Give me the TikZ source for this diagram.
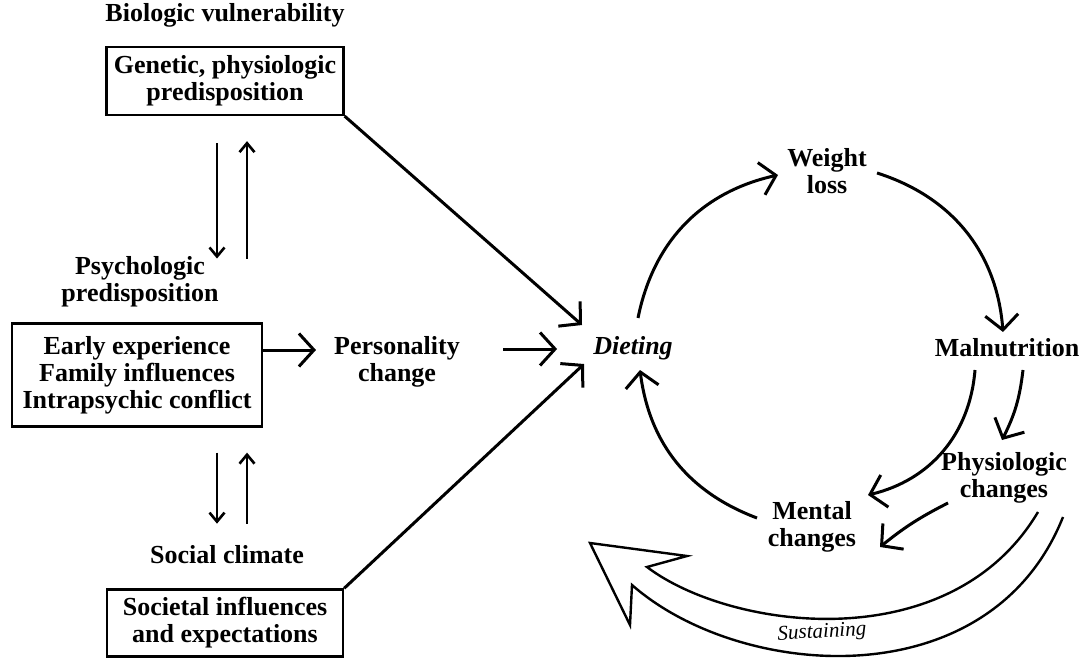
\documentclass[tikz,border=0pt]{standalone}
\usepackage{fontspec}
\setmainfont{Liberation Serif}
\usetikzlibrary{arrows.meta}
\usetikzlibrary{positioning}

\begin{document}
\begin{tikzpicture}[x=1pt,y=-1pt,
  txt/.style={font=\fontsize{26}{27}\selectfont\bfseries,align=center,inner sep=0pt},
  boxed/.style={txt,draw,line width=2.3pt},
  arr/.style={line width=3pt,-{Straight Barb[length=15pt,width=33pt]}},
  sarr/.style={line width=2.6pt,-{Straight Barb[length=9pt,width=15pt]}}]
\useasboundingbox (0,0) rectangle (1084,660);

\node[txt] (bio) at (225,15) {Biologic vulnerability};
\node[boxed,minimum width=237pt,minimum height=68pt] (gen) at (225,81) {Genetic, physiologic\\predisposition};
\node[txt] (psych) at (140,282) {Psychologic\\predisposition};
\node[boxed,minimum width=250pt,minimum height=103pt] (early) at (137,375) {Early experience\\Family influences\\Intrapsychic conflict};
\node[txt] (pers) at (397,362) {Personality\\change};
\node[txt] (social) at (227,555) {Social climate};
\node[boxed,minimum width=236pt,minimum height=67pt] (soc) at (225,623) {Societal influences\\and expectations};
\node[txt,font=\fontsize{26}{27}\selectfont\bfseries\itshape] (diet) at (633,348) {Dieting};
\node[txt] (wl) at (827,171) {Weight\\loss};
\node[txt] (mal) at (1007,348) {Malnutrition};
\node[txt] (phys) at (1004,478) {Physiologic\\changes};
\node[txt] (ment) at (812,527) {Mental\\changes};

\draw[sarr] ([shift={(-8,27)}]gen.south) -- ([shift={(-8,2)}]gen.south |- psych.north);
\draw[sarr] ([shift={(22,2)}]gen.south |- psych.north) -- ([shift={(22,25)}]gen.south);
\draw[sarr] ([shift={(-10,25)}]social.north |- early.south) -- ([shift={(-10,-22)}]social.north);
\draw[sarr] ([shift={(20,-22)}]social.north) -- ([shift={(20,25)}]social.north |- early.south);

\draw[arr,shorten >=18pt] ([shift={(0,-25)}]early.east) -- ([shift={(0,-25)}]early.east -| pers.west);
\draw[arr,shorten <=43pt,shorten >=36pt] ([shift={(0,-13)}]pers.east) -- ([shift={(0,-13)}]pers.east -| diet.west);
\draw[arr] (gen.south east) -- ([shift={(-51,-23)}]diet.center);
\draw[arr] (soc.north east) -- ([shift={(-49,16)}]diet.center);

\draw[arr] ([shift={(5,-30)}]diet.center) to[bend left=33] ([shift={(-49,4)}]wl.center);
\draw[arr] ([shift={(50,2)}]wl.center) to[bend left=34] ([shift={(-4,-16)}]mal.center);
\draw[arr] ([shift={(-32,22)}]mal.center) to[bend left=36] ([shift={(56,-32)}]ment.center);
\draw[arr] ([shift={(-55,-9)}]ment.center) to[bend left=31] ([shift={(7,22)}]diet.center);
\draw[arr] ([shift={(16,22)}]mal.center) to[bend left=10] ([shift={(-2,-38)}]phys.center);
\draw[arr] ([shift={(-56,25)}]phys.center) to[bend right=6] ([shift={(68,20)}]ment.center);

% hollow sustaining arrow
\draw[line width=2.4pt,line join=miter] (1038,512) .. controls (950,660) and (730,630) .. (647,567) -- (687,556) -- (590,543) -- (630,625) -- (632,585) .. controls (740,680) and (990,700) .. (1063,517);
\node[font=\fontsize{21}{22}\selectfont\itshape,rotate=3] (sus) at (822,633) {Sustaining};

\end{tikzpicture}
\end{document}
